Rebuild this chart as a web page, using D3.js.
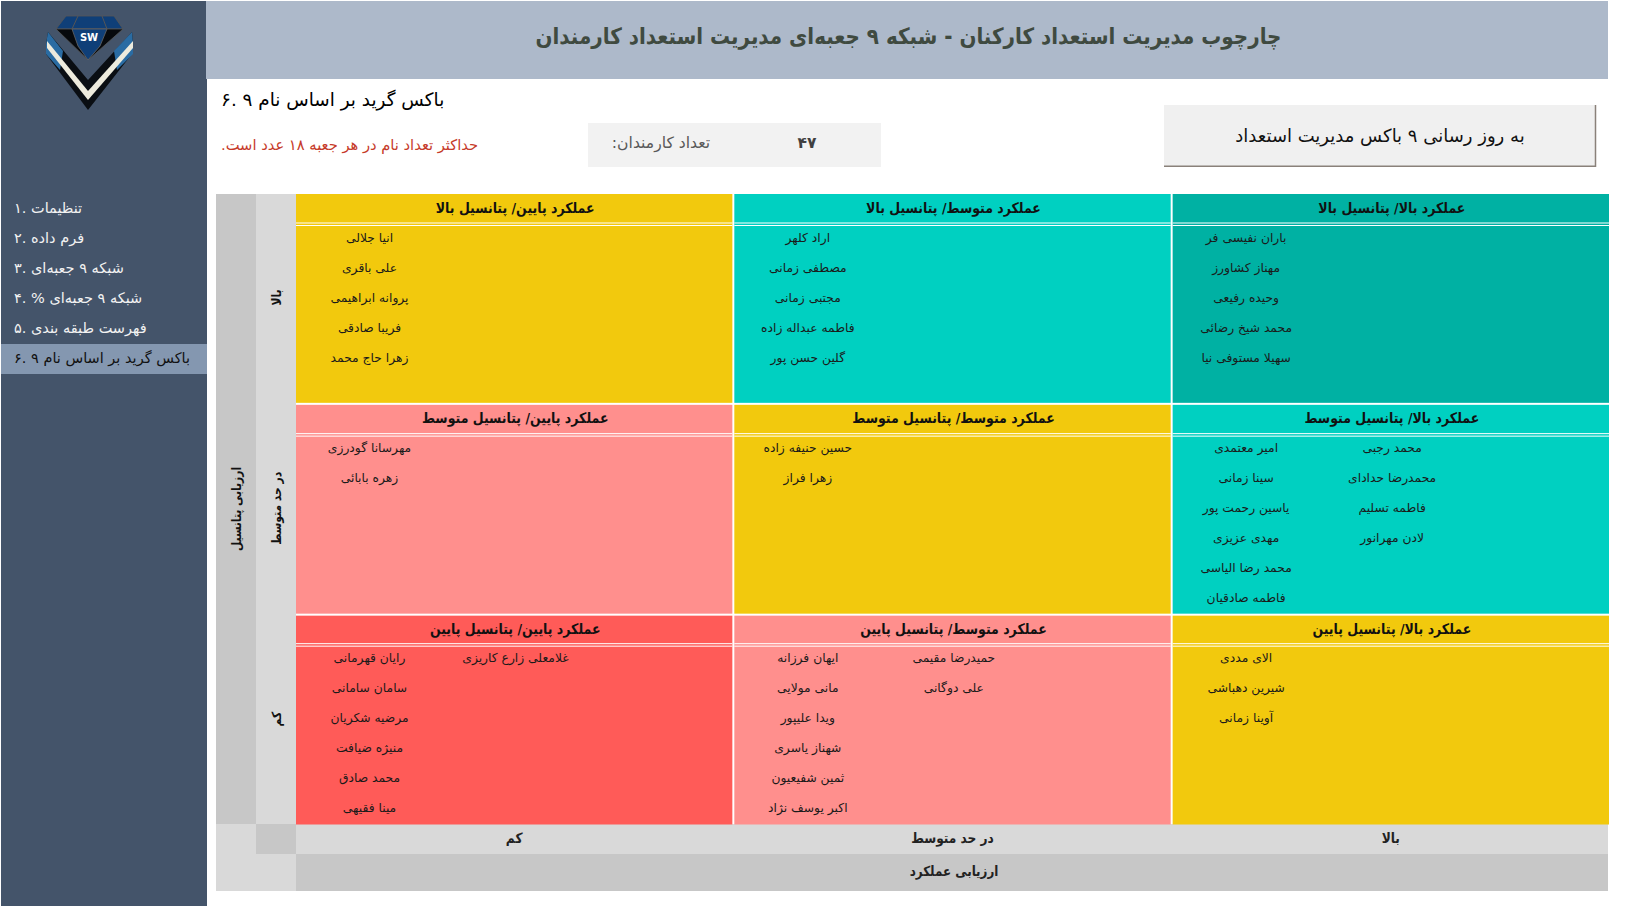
<!DOCTYPE html>
<html lang="fa"><head><meta charset="utf-8">
<script src="https://cdn.jsdelivr.net/npm/d3@7/dist/d3.min.js"></script>
<style>
html,body{margin:0;padding:0;background:#fff;overflow:hidden}
svg{display:block}
text{font-family:"DejaVu Sans",sans-serif;direction:rtl}
</style></head><body>
<script>
const titleText="چارچوب مدیریت استعداد کارکنان - شبکه ۹ جعبه‌ای مدیریت استعداد کارمندان";
const subtitleText="باکس گرید بر اساس نام ۹ .۶";
const noteText="حداکثر تعداد نام در هر جعبه ۱۸ عدد است.";
const countLabel="تعداد کارمندان:";
const countValue="۴۷";
const buttonText="به روز رسانی ۹ باکس مدیریت استعداد";
const menuItems=["تنظیمات .۱","فرم داده .۲","شبکه ۹ جعبه‌ای .۳","شبکه ۹ جعبه‌ای % .۴","فهرست طبقه بندی .۵","باکس گرید بر اساس نام ۹ .۶"];
const selectedMenu=5;
const perfKeys=["low","mid","high"];
const potKeys=["high","mid","low"];
const perfAxisLabels=["کم","در حد متوسط","بالا"];
const potAxisLabels=["بالا","در حد متوسط","کم"];
const perfTitle="ارزیابی عملکرد";
const potTitle="ارزیابی پتانسیل";
const perfHeading={low:"عملکرد پایین",mid:"عملکرد متوسط",high:"عملکرد بالا"};
const potHeading={high:"پتانسیل بالا",mid:"پتانسیل متوسط",low:"پتانسیل پایین"};
const cellTones={
 "high-low":"yellow","high-mid":"teal","high-high":"deep",
 "mid-low":"pink","mid-mid":"yellow","mid-high":"teal",
 "low-low":"red","low-mid":"pink","low-high":"yellow"};
const tonePalette={yellow:"#F2C90D",teal:"#00D0C1",deep:"#00B1A3",pink:"#FF8F8D",red:"#FF5B58"};
const namesHighLow=[["انیا جلالی","علی باقری","پروانه ابراهیمی","فریبا صادقی","زهرا حاج محمد"]];
const namesHighMid=[["اراد کلهر","مصطفی زمانی","مجتبی زمانی","فاطمه عبداله زاده","گلین حسن پور"]];
const namesHighHigh=[["باران نفیسی فر","مهناز کشاورز","وحیده رفیعی","محمد شیخ رضائی","سهیلا مستوفی نیا"]];
const namesMidLow=[["مهرسانا گودرزی","زهره بابائی"]];
const namesMidMid=[["حسین حنیفه زاده","زهرا فراز"]];
const namesMidHigh=[["امیر معتمدی","سینا زمانی","یاسین رحمت پور","مهدی عزیزی","محمد رضا الیاسی","فاطمه صادقیان"],["محمد رجبی","محمدرضا حدادای","فاطمه تسلیم","لادن مهرانور"]];
const namesLowLow=[["رایان قهرمانی","سامان سامانی","مرضیه شکریان","منیژه ضیافت","محمد صادق","مینا فقیهی"],["غلامعلی زارع کاریزی"]];
const namesLowMid=[["ایهان فرزانه","مانی مولایی","ویدا علیپور","شهناز یاسری","ثمین شفیعیون","اکبر یوسف نژاد"],["حمیدرضا مقیمی","علی دوگانی"]];
const namesLowHigh=[["الای مددی","شیرین دهباشی","آوینا زمانی"]];
const cellNames={"high-low":namesHighLow,"high-mid":namesHighMid,"high-high":namesHighHigh,"mid-low":namesMidLow,"mid-mid":namesMidMid,"mid-high":namesMidHigh,"low-low":namesLowLow,"low-mid":namesLowMid,"low-high":namesLowHigh};

const W=1626,H=906;
const svg=d3.select("body").append("svg").attr("width",W).attr("height",H);
const rect=(x,y,w,h,f)=>svg.append("rect").attr("x",x).attr("y",y).attr("width",w).attr("height",h).attr("fill",f);
const label=(s,x,y,size,opt={})=>svg.append("text")
  .attr("transform",`translate(${x},${y}) scale(${opt.sx||1},1)`).attr("font-size",size)
  .attr("text-anchor",opt.anchor||"middle").attr("dominant-baseline","central")
  .attr("font-weight",opt.weight||"normal").attr("fill",opt.fill||"#111").text(s);

// page furniture
rect(1,1,206,H,"#44546A");
rect(206,1,1402,78,"#ADB9CA");
label(titleText,908.5,36,22.5,{weight:"bold",fill:"#3F4A40",sx:0.885});

// logo
const logo=svg.append("g");
const poly=(pts,f,s)=>logo.append("polygon").attr("points",pts).attr("fill",f).attr("stroke",s||"none").attr("stroke-width",0.8);
poly("48,32 46,44 46,54 88,110 132,54 133,44 132,32 88,80","#0A0E13");
poly("48,32 46,44 46,54 60,70 63,51","#2A6CA3");
poly("132,32 133,44 133,54 117,70 114,51","#2A6CA3");
poly("47,41 47,48 88,100 88,91","#EDEBDD");
poly("133,41 133,48 88,100 88,91","#EDEBDD");
poly("66,16 114,16 123,29 56,29","#0F3F78","#555");
poly("56,29 123,29 88,60","#06090D","#555");
poly("72,29 107,29 100,46 88,60 78,46","#0F3F78","#666");
logo.append("line").attr("x1",78).attr("y1",16).attr("x2",72).attr("y2",29).attr("stroke","#555");
logo.append("line").attr("x1",102).attr("y1",16).attr("x2",107).attr("y2",29).attr("stroke","#555");
logo.append("text").attr("x",89).attr("y",37).attr("text-anchor","middle").attr("dominant-baseline","central")
  .attr("font-size",10).attr("font-weight","bold").attr("fill","#fff").style("direction","ltr").text("SW");

// menu
const menuY=d3.scaleBand().domain(d3.range(menuItems.length)).range([194,374]);
svg.append("rect").attr("x",1).attr("y",menuY(selectedMenu)).attr("width",206).attr("height",menuY.bandwidth()).attr("fill","#8497B0");
svg.selectAll("text.menu").data(menuItems).join("text").attr("class","menu")
  .attr("x",14).attr("y",(d,i)=>menuY(i)+menuY.bandwidth()/2-1)
  .attr("text-anchor","end").attr("dominant-baseline","central").attr("font-size",14.5)
  .attr("fill",(d,i)=>i===selectedMenu?"#111":"#F2F2F2").text(d=>d);

// top strip
label(subtitleText,221,99,18.4,{anchor:"end",fill:"#000"});
label(noteText,221,144,14.7,{anchor:"end",fill:"#C63A2A"});
rect(588,123,293,44,"#F2F2F2");
label(countLabel,661,143,15.6,{fill:"#595959"});
label(countValue,807,142.5,15.5,{weight:"bold",fill:"#404040"});
rect(1164,105,432,62,"#F0F0F0");
svg.append("path").attr("d","M1164,166.2H1595.5V105").attr("fill","none").attr("stroke","#8A817A").attr("stroke-width",1.5);
label(buttonText,1380,135.5,18,{fill:"#111"});

// grid
const colX=d3.scaleBand().domain(perfKeys).range([296,1609]).paddingInner(0.0045);
const rowY=d3.scaleBand().domain(potKeys).range([194,824.5]).paddingInner(0.0095);
rect(216,194,40,630,"#C7C7C7");
rect(256,194,40,630,"#D9D9D9");
rect(216,824,80,67,"#D9D9D9");
rect(256,824,40,30,"#C7C7C7");
rect(296,824,1312,30,"#D9D9D9");
rect(296,854,1312,37,"#C7C7C7");

const slotX=d3.scaleBand().domain([0,1,2]).range([0,438]);
const nameY=d3.scaleLinear().domain([0,1]).range([0,30]);
const headLine={high:28.5,mid:28.3,low:27.5}, headText={high:14,mid:13,low:12.5}, nameStart={high:44,mid:43,low:42.5};
const cells=d3.cross(potKeys,perfKeys).map(([pot,perf])=>({pot,perf,key:pot+"-"+perf}));
const g=svg.selectAll("g.cell").data(cells).join("g").attr("class","cell")
  .attr("transform",d=>`translate(${colX(d.perf)},${rowY(d.pot)})`);
g.append("rect").attr("width",colX.bandwidth()).attr("height",rowY.bandwidth())
  .attr("fill",d=>tonePalette[cellTones[d.key]]);
g.append("rect").attr("y",d=>headLine[d.pot]).attr("width",colX.bandwidth()).attr("height",1).attr("fill","#fff");
g.append("rect").attr("y",d=>headLine[d.pot]+2.5).attr("width",colX.bandwidth()).attr("height",1).attr("fill","#fff");
g.append("text").attr("transform",d=>`translate(${colX.bandwidth()/2+1},${headText[d.pot]}) scale(0.865,1)`)
  .attr("text-anchor","middle").attr("dominant-baseline","central")
  .attr("font-size",14.5).attr("font-weight","bold").attr("fill","#111")
  .text(d=>perfHeading[d.perf]+"/ "+potHeading[d.pot]);
g.each(function(d){
  const sel=d3.select(this);
  cellNames[d.key].forEach((list,slot)=>{
    sel.selectAll("text.n"+slot).data(list).join("text").attr("class","n"+slot)
      .attr("x",slotX(slot)+slotX.bandwidth()/2+0.5)
      .attr("y",(n,i)=>nameStart[d.pot]+nameY(i))
      .attr("text-anchor","middle").attr("dominant-baseline","central")
      .attr("font-size",12.3).attr("fill","#1a1a1a").text(n=>n);
  });
});

// axes labels
perfKeys.forEach((k,i)=>label(perfAxisLabels[i],colX(k)+colX.bandwidth()/2,838.5,14,{weight:"bold",fill:"#222",sx:0.87}));
label(perfTitle,954,871.5,14,{weight:"bold",fill:"#222",sx:0.85});
const vlabel=(s,x,y)=>svg.append("text").attr("transform",`translate(${x},${y}) rotate(-90) scale(0.84,1)`).attr("text-anchor","middle")
  .attr("dominant-baseline","central").attr("font-size",12.8).attr("font-weight","bold").attr("fill","#111").text(s);
potKeys.forEach((k,i)=>vlabel(potAxisLabels[i],277,rowY(k)+rowY.bandwidth()/2+(i===0?-1:-1)));
vlabel(potTitle,237,509);
</script>
</body></html>
